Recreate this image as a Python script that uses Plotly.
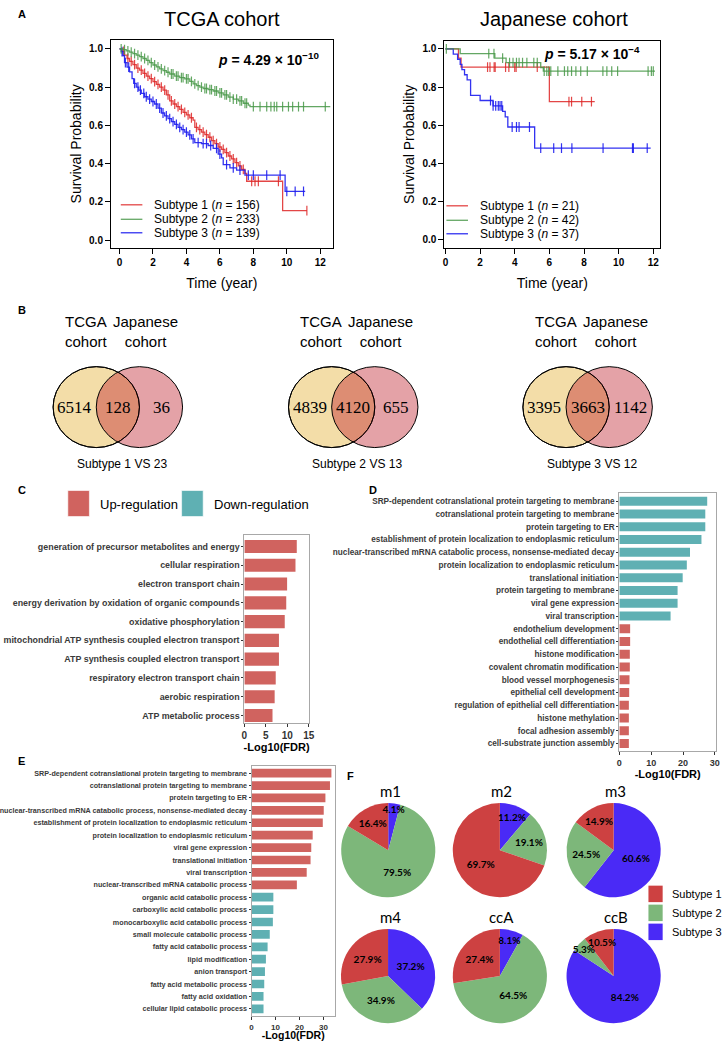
import plotly.graph_objects as go

W, H = 728, 1041
def X(p): return p / W
def Y(p): return 1 - p / H
def DX(a, b): return [a / W, b / W]
def DY(a, b): return [1 - b / H, 1 - a / H]

SANS = "Liberation Sans"
SERIF = "Liberation Serif"
PIEF = "Lato"

# ---------------- Panel A data (Kaplan-Meier) ----------------
subtype_names = ["Subtype 1", "Subtype 2", "Subtype 3"]
tcga_n = [156, 233, 139]
jp_n = [21, 42, 37]

tcga_s1_time = [0.15, 0.3, 0.45, 0.6, 0.8, 1.0, 1.2, 1.4, 1.6, 1.8, 2.0, 2.2, 2.4, 2.6, 2.8, 3.0, 3.2, 3.4, 3.6,
                3.8, 4.0, 4.2, 4.4, 4.5, 4.7, 4.9, 5.1, 5.3, 5.5, 5.7, 5.9, 6.1, 6.3, 6.5, 6.7, 6.9, 7.1, 7.3,
                7.5, 7.6, 9.75]
tcga_s1_surv = [0.987, 0.968, 0.950, 0.935, 0.918, 0.900, 0.889, 0.872, 0.858, 0.845, 0.829, 0.815, 0.800,
                0.785, 0.760, 0.728, 0.712, 0.698, 0.684, 0.668, 0.655, 0.640, 0.628, 0.590, 0.578, 0.565,
                0.552, 0.538, 0.520, 0.505, 0.487, 0.475, 0.458, 0.440, 0.425, 0.405, 0.388, 0.370, 0.349,
                0.308, 0.154]
tcga_s1_end = 11.2
tcga_s1_cens = [0.25, 0.5, 0.7, 0.9, 1.1, 1.3, 1.5, 1.7, 1.9, 2.1, 2.3, 2.5, 2.7, 2.9, 3.1, 3.3, 3.5, 3.7, 3.9,
                4.1, 4.3, 4.6, 4.8, 5.0, 5.2, 5.4, 5.6, 5.8, 6.0, 6.2, 6.4, 6.6, 6.8, 7.0, 7.2, 7.4, 7.9, 8.1,
                8.3, 9.5, 11.2]

tcga_s2_time = [0.2, 0.4, 0.6, 0.8, 1.0, 1.2, 1.4, 1.6, 1.8, 2.0, 2.2, 2.4, 2.6, 2.8, 3.0, 3.3, 3.6, 3.9, 4.2,
                4.4, 4.6, 4.8, 5.0, 5.3, 5.6, 5.9, 6.2, 6.5, 6.8, 7.1, 7.4, 7.7, 7.8]
tcga_s2_surv = [0.996, 0.990, 0.983, 0.975, 0.968, 0.960, 0.950, 0.940, 0.928, 0.916, 0.906, 0.896, 0.887,
                0.878, 0.869, 0.858, 0.850, 0.843, 0.830, 0.817, 0.808, 0.800, 0.793, 0.787, 0.780, 0.770,
                0.760, 0.748, 0.738, 0.728, 0.716, 0.706, 0.698]
tcga_s2_end = 12.6
tcga_s2_cens = [0.1, 0.3, 0.5, 0.7, 0.9, 1.1, 1.3, 1.5, 1.7, 1.9, 2.1, 2.3, 2.5, 2.7, 2.9, 3.1, 3.2, 3.4, 3.5,
                3.7, 3.8, 4.0, 4.1, 4.3, 4.5, 4.7, 4.9, 5.1, 5.2, 5.4, 5.5, 5.7, 5.8, 6.0, 6.1, 6.3, 6.4, 6.6,
                6.8, 7.0, 7.2, 7.3, 7.5, 7.6, 8.0, 8.4, 8.8, 9.05, 9.25, 9.4, 9.75, 10.1, 10.35, 10.7, 11.0,
                12.3]

tcga_s3_time = [0.1, 0.2, 0.3, 0.45, 0.6, 0.75, 0.85, 1.0, 1.15, 1.3, 1.5, 1.7, 1.9, 2.1, 2.3, 2.5, 2.7, 2.9,
                3.1, 3.3, 3.5, 3.7, 3.9, 4.1, 4.3, 4.5, 4.9, 5.3, 5.6, 5.9, 6.1, 6.2, 6.6, 7.0, 7.5, 9.9]
tcga_s3_surv = [0.986, 0.965, 0.928, 0.905, 0.880, 0.845, 0.820, 0.800, 0.785, 0.768, 0.750, 0.738, 0.725,
                0.712, 0.690, 0.665, 0.650, 0.635, 0.620, 0.605, 0.590, 0.578, 0.565, 0.550, 0.530, 0.510,
                0.505, 0.495, 0.480, 0.450, 0.430, 0.395, 0.378, 0.366, 0.340, 0.255]
tcga_s3_end = 11.1
tcga_s3_cens = [0.15, 0.35, 0.55, 0.9, 1.1, 1.25, 1.45, 1.6, 1.8, 2.0, 2.2, 2.4, 2.6, 2.8, 3.0, 3.2, 3.4, 3.6,
                3.8, 4.0, 4.2, 4.4, 4.7, 5.0, 5.2, 5.45, 5.8, 6.0, 6.4, 6.8, 7.2, 7.7, 8.0, 8.8, 9.6, 10.0,
                10.5, 11.0]

jp_s1_time = [0.75, 0.9, 6.0]
jp_s1_surv = [0.952, 0.905, 0.724]
jp_s1_end = 8.62
jp_s1_cens = [2.43, 2.57, 2.81, 2.87, 3.47, 3.66, 4.0, 4.08, 5.3, 7.13, 7.28, 7.87, 8.43]

jp_s2_time = [0.85, 2.85, 3.5, 5.5, 5.65]
jp_s2_surv = [0.976, 0.952, 0.928, 0.903, 0.884]
jp_s2_end = 12.1
jp_s2_cens = [0.05, 2.5, 2.8, 3.3, 3.7, 3.9, 4.1, 4.25, 4.45, 4.7, 5.1, 5.3, 5.7, 5.85, 5.96, 6.08, 6.49, 6.87,
              7.06, 7.28, 7.53, 7.81, 8.19, 9.09, 9.32, 9.6, 9.94, 11.7, 11.89, 12.0]

jp_s3_time = [0.45, 0.7, 0.85, 0.95, 1.1, 1.25, 1.45, 2.0, 2.75, 3.3, 3.45, 3.6, 5.15]
jp_s3_surv = [0.973, 0.946, 0.919, 0.892, 0.865, 0.838, 0.757, 0.730, 0.702, 0.673, 0.644, 0.591, 0.480]
jp_s3_end = 11.85
jp_s3_cens = [2.6, 2.75, 2.9, 3.05, 3.15, 3.25, 3.85, 4.1, 4.25, 4.85, 5.5, 6.25, 6.7, 7.3, 9.1, 10.8,
              10.85, 11.65]

tcga_p = "4.29 × 10<sup>−10</sup>"
jp_p = "5.17 × 10<sup>−4</sup>"

# ---------------- Panel B data (Venn) ----------------
venn_titles = ["Subtype 1 VS 23", "Subtype 2 VS 13", "Subtype 3 VS 12"]
venn_tcga_only = [6514, 4839, 3395]
venn_both = [128, 4120, 3663]
venn_jp_only = [36, 655, 1142]
venn_set_labels = ["TCGA<br>cohort", "Japanese<br>cohort"]

# ---------------- Panel C/D/E data (GO bars) ----------------
reg_labels = ["Up-regulation", "Down-regulation"]

c_terms = ["generation of precursor metabolites and energy", "cellular respiration", "electron transport chain",
           "energy derivation by oxidation of organic compounds", "oxidative phosphorylation",
           "mitochondrial ATP synthesis coupled electron transport", "ATP synthesis coupled electron transport",
           "respiratory electron transport chain", "aerobic respiration", "ATP metabolic process"]
c_vals = [12.2, 11.9, 9.95, 9.75, 9.4, 8.05, 8.05, 7.3, 7.05, 6.55]
c_dir = ["up"] * 10

d_terms = ["SRP-dependent cotranslational protein targeting to membrane",
           "cotranslational protein targeting to membrane", "protein targeting to ER",
           "establishment of protein localization to endoplasmic reticulum",
           "nuclear-transcribed mRNA catabolic process, nonsense-mediated decay",
           "protein localization to endoplasmic reticulum", "translational initiation",
           "protein targeting to membrane", "viral gene expression", "viral transcription",
           "endothelium development", "endothelial cell differentiation", "histone modification",
           "covalent chromatin modification", "blood vessel morphogenesis", "epithelial cell development",
           "regulation of epithelial cell differentiation", "histone methylation", "focal adhesion assembly",
           "cell-substrate junction assembly"]
d_vals = [27.6, 27.0, 27.0, 25.8, 22.2, 21.2, 19.9, 18.3, 18.3, 16.1,
          3.4, 3.4, 3.3, 3.3, 3.2, 3.1, 3.0, 3.0, 3.0, 3.0]
d_dir = ["down"] * 10 + ["up"] * 10

e_terms = ["SRP-dependent cotranslational protein targeting to membrane",
           "cotranslational protein targeting to membrane", "protein targeting to ER",
           "nuclear-transcribed mRNA catabolic process, nonsense-mediated decay",
           "establishment of protein localization to endoplasmic reticulum",
           "protein localization to endoplasmic reticulum", "viral gene expression", "translational initiation",
           "viral transcription", "nuclear-transcribed mRNA catabolic process", "organic acid catabolic process",
           "carboxylic acid catabolic process", "monocarboxylic acid catabolic process",
           "small molecule catabolic process", "fatty acid catabolic process", "lipid modification",
           "anion transport", "fatty acid metabolic process", "fatty acid oxidation",
           "cellular lipid catabolic process"]
e_vals = [33.3, 32.7, 30.8, 30.1, 29.7, 25.5, 24.9, 24.6, 23.0, 18.9,
          9.1, 9.1, 8.9, 7.6, 6.7, 6.0, 5.6, 5.3, 5.0, 5.0]
e_dir = ["up"] * 10 + ["down"] * 10

# ---------------- Panel F data (pies) ----------------
pie_names = ["m1", "m2", "m3", "m4", "ccA", "ccB"]
pie_s1 = [16.4, 69.7, 14.9, 27.9, 27.4, 10.5]
pie_s2 = [79.5, 19.1, 24.5, 34.9, 64.5, 5.3]
pie_s3 = [4.1, 11.2, 60.6, 37.2, 8.1, 84.2]

# ---------------- styles ----------------
KM_COL = ["rgba(222,38,38,0.85)", "rgba(72,152,72,0.85)", "rgba(28,28,238,0.9)"]
UP_COL = "#D0635F"
DOWN_COL = "#5FB0B3"
PIE_COL = ["#CD4141", "#7DB77A", "#4A2AF6"]
VENN_Y = "#F3DDA8"
VENN_P = "rgba(188,23,35,0.4)"

fig = go.Figure()


def surv_at(t, times, surv):
    s = 1.0
    for ti, si in zip(times, surv):
        if ti <= t:
            s = si
        else:
            break
    return s


def km(times, surv, end, cens, color, xa, ya):
    xs = [0.0] + times + [end]
    ys = [1.0] + surv + [surv[-1]]
    fig.add_trace(go.Scatter(x=xs, y=ys, mode="lines", line=dict(shape="hv", color=color, width=1.3),
                             xaxis=xa, yaxis=ya, showlegend=False, hoverinfo="skip"))
    fig.add_trace(go.Scatter(x=cens, y=[surv_at(c, times, surv) for c in cens], mode="markers",
                             marker=dict(symbol="line-ns-open", size=7, color=color,
                                         line=dict(color=color, width=1.2)),
                             xaxis=xa, yaxis=ya, showlegend=False, hoverinfo="skip"))


km(tcga_s1_time, tcga_s1_surv, tcga_s1_end, tcga_s1_cens, KM_COL[0], "x", "y")
km(tcga_s3_time, tcga_s3_surv, tcga_s3_end, tcga_s3_cens, KM_COL[2], "x", "y")
km(tcga_s2_time, tcga_s2_surv, tcga_s2_end, tcga_s2_cens, KM_COL[1], "x", "y")
km(jp_s1_time, jp_s1_surv, jp_s1_end, jp_s1_cens, KM_COL[0], "x2", "y2")
km(jp_s3_time, jp_s3_surv, jp_s3_end, jp_s3_cens, KM_COL[2], "x2", "y2")
km(jp_s2_time, jp_s2_surv, jp_s2_end, jp_s2_cens, KM_COL[1], "x2", "y2")


def bars(terms, vals, dirs, xa, ya):
    fig.add_trace(go.Bar(y=terms, x=vals, orientation="h", width=0.7,
                         marker=dict(color=[UP_COL if d == "up" else DOWN_COL for d in dirs],
                                     line=dict(width=0)),
                         xaxis=xa, yaxis=ya, showlegend=False, hoverinfo="skip"))


bars(c_terms, c_vals, c_dir, "x3", "y3")
bars(d_terms, d_vals, d_dir, "x4", "y4")
bars(e_terms, e_vals, e_dir, "x5", "y5")

# pies: drawn clockwise from 12 o'clock as Subtype 3, Subtype 2, Subtype 1.
# A second, transparent pie on top carries the percentage labels so no slice hides them.
pie_centers = [(387.7, 851), (501.5, 851), (617.5, 851), (387.5, 977), (501.5, 977), (617.5, 977)]
R = 48
for layer in ("fill", "text"):
    for i, name in enumerate(pie_names):
        cx, cy = pie_centers[i]
        common = dict(labels=subtype_names[::-1], values=[pie_s3[i], pie_s2[i], pie_s1[i]], sort=False,
                      direction="clockwise", rotation=0,
                      domain=dict(x=DX(cx - R, cx + R), y=DY(cy - R, cy + R)),
                      showlegend=False, hoverinfo="skip")
        if layer == "fill":
            fig.add_trace(go.Pie(**common, marker=dict(colors=PIE_COL[::-1], line=dict(width=0)),
                                 textinfo="none"))
        else:
            fig.add_trace(go.Pie(**common, marker=dict(colors=["rgba(0,0,0,0)"] * 3, line=dict(width=0)),
                                 texttemplate="%{value:.1f}%", textposition="inside",
                                 insidetextorientation="horizontal",
                                 textfont=dict(family=PIEF, size=10, color="black", weight="bold")))

ann = []
shapes = []


def txt(x, y, s, size, xanchor="center", bold=False, family=SANS, color="black", yanchor="middle"):
    ann.append(dict(x=X(x), y=Y(y), xref="paper", yref="paper", text=s, showarrow=False,
                    xanchor=xanchor, yanchor=yanchor,
                    font=dict(family=family, size=size, color=color, weight="bold" if bold else "normal")))


# panel letters
for L, (x, y) in zip("ABCDEF", [(8, 14), (8, 310), (8, 490), (366, 490), (8, 762), (344, 777)]):
    txt(x, y, L, 11, xanchor="left", bold=True)

# KM titles / p-values / legends
txt(218, 19, "TCGA cohort", 20)
txt(557, 19, "Japanese cohort", 20)
txt(266, 59, "<i>p</i> = " + tcga_p, 14, bold=True)
txt(595, 53, "<i>p</i> = " + jp_p, 14, bold=True)

for k in range(3):
    yk = [205, 219.5, 233][k]
    shapes.append(dict(type="line", xref="paper", yref="paper", x0=X(115), x1=X(137), y0=Y(yk), y1=Y(yk),
                       line=dict(color=KM_COL[k], width=1.3)))
    txt(147, yk, f"{subtype_names[k]} (<i>n</i> = {tcga_n[k]})", 12, xanchor="left")
    shapes.append(dict(type="line", xref="paper", yref="paper", x0=X(447), x1=X(469), y0=Y(yk + 1),
                       y1=Y(yk + 1), line=dict(color=KM_COL[k], width=1.3)))
    txt(479, yk + 1, f"{subtype_names[k]} (<i>n</i> = {jp_n[k]})", 12, xanchor="left")

# Venn diagrams
venn_cx = [112, 352, 591]
VCY, RX, RY, SEP = 407.5, 44, 40.5, 22
for i, cx in enumerate(venn_cx):
    lx, rx_ = cx - SEP, cx + SEP
    shapes.append(dict(type="circle", xref="paper", yref="paper", x0=X(lx - RX), x1=X(lx + RX),
                       y0=Y(VCY + RY), y1=Y(VCY - RY), fillcolor=VENN_Y, line=dict(color="black", width=1)))
    shapes.append(dict(type="circle", xref="paper", yref="paper", x0=X(rx_ - RX), x1=X(rx_ + RX),
                       y0=Y(VCY + RY), y1=Y(VCY - RY), fillcolor=VENN_P, line=dict(color="black", width=1)))
    shapes.append(dict(type="circle", xref="paper", yref="paper", x0=X(lx - RX), x1=X(lx + RX),
                       y0=Y(VCY + RY), y1=Y(VCY - RY), line=dict(color="black", width=1)))
    txt(cx - 44, VCY, str(venn_tcga_only[i]), 17, family=SERIF)
    txt(cx, VCY, str(venn_both[i]), 17, family=SERIF)
    txt(cx + 44, VCY, str(venn_jp_only[i]), 17, family=SERIF)
    txt(cx - 32, 332, venn_set_labels[0], 15)
    txt(cx + 28, 332, venn_set_labels[1], 15)
    txt(cx + 4, 464, venn_titles[i], 12)

# Panel C legend
for (x0, col, lab) in [(61, UP_COL, reg_labels[0]), (177, DOWN_COL, reg_labels[1])]:
    shapes.append(dict(type="rect", xref="paper", yref="paper", x0=X(x0), x1=X(x0 + 22), y0=Y(517), y1=Y(491),
                       fillcolor=col, line=dict(color="rgba(255,255,255,0.6)", width=1)))
    txt(x0 + 31, 505, lab, 13, xanchor="left")

# pie titles and legend
for i, name in enumerate(pie_names):
    cx, cy = pie_centers[i]
    txt(cx + 2, cy - 59, name, 15, family=PIEF)
for k in range(3):
    y0 = [886.5, 905.5, 924.5][k]
    shapes.append(dict(type="rect", xref="paper", yref="paper", x0=X(653), x1=X(667.5), y0=Y(y0 + 16.5),
                       y1=Y(y0), fillcolor=PIE_COL[k], line=dict(width=0)))
    txt(675, y0 + 8.5, subtype_names[k], 11, xanchor="left")

# axes
km_ax = dict(showgrid=False, zeroline=False, showline=True, mirror=True, linecolor="black", linewidth=1,
             ticks="outside", ticklen=5, tickwidth=1, tickcolor="black",
             tickfont=dict(family=SANS, size=10, weight="bold", color="black"))
bar_x = dict(showgrid=False, zeroline=False, showline=True, mirror=True, linecolor="#A8A8A8", linewidth=1,
             ticks="outside", ticklen=3, tickcolor="#333333",
             tickfont=dict(family=SANS, size=10, weight="bold", color="#333333"))
bar_y = dict(showgrid=False, zeroline=False, showline=True, mirror=True, linecolor="#A8A8A8", linewidth=1,
             ticks="outside", ticklen=2, tickcolor="#333333", type="category", categoryorder="array")

fig.update_layout(
    width=W, height=H, margin=dict(l=0, r=0, t=0, b=0), paper_bgcolor="white", plot_bgcolor="white",
    font=dict(family=SANS, color="black"), showlegend=False,
    xaxis=dict(km_ax, domain=DX(105, 331), range=[-0.51, 12.74], anchor="y", tickvals=list(range(0, 13, 2)),
               title=dict(text="Time (year)", font=dict(size=14), standoff=11)),
    yaxis=dict(km_ax, domain=DY(40, 248), range=[-0.04, 1.047], anchor="x",
               tickvals=[0, 0.2, 0.4, 0.6, 0.8, 1.0], tickformat=".1f",
               title=dict(text="Survival Probability", font=dict(size=14), standoff=4)),
    xaxis2=dict(km_ax, domain=DX(445, 665), range=[-0.06, 12.4], anchor="y2", tickvals=list(range(0, 13, 2)),
                title=dict(text="Time (year)", font=dict(size=14), standoff=11)),
    yaxis2=dict(km_ax, domain=DY(41, 248), range=[-0.042, 1.042], anchor="x2",
                tickvals=[0, 0.2, 0.4, 0.6, 0.8, 1.0], tickformat=".1f",
                title=dict(text="Survival Probability", font=dict(size=14), standoff=4)),
    xaxis3=dict(bar_x, domain=DX(241, 306.7), range=[0, 15], anchor="y3", tickvals=[0, 5, 10, 15],
                title=dict(text="-Log10(FDR)", font=dict(size=11, weight="bold"), standoff=1)),
    yaxis3=dict(bar_y, domain=DY(535.7, 723.7), range=[9.4, -0.6], anchor="x3", categoryarray=c_terms,
                tickfont=dict(family=SANS, size=8.9, weight="bold", color="#3A3A3A")),
    xaxis4=dict(bar_x, domain=DX(623.3, 722), range=[0, 30.4], anchor="y4", tickvals=[0, 10, 20, 30],
                tickfont=dict(family=SANS, size=9, weight="bold", color="#333333"),
                title=dict(text="-Log10(FDR)", font=dict(size=11, weight="bold"), standoff=1)),
    yaxis4=dict(bar_y, domain=DY(493.3, 751.7), range=[19.58, -0.66], anchor="x4", categoryarray=d_terms,
                tickfont=dict(family=SANS, size=8.2, weight="bold", color="#3A3A3A")),
    xaxis5=dict(bar_x, domain=DX(248.3, 333.3), range=[0, 34.75], anchor="y5", tickvals=[0, 10, 20, 30],
                tickfont=dict(family=SANS, size=8, weight="bold", color="#333333"),
                title=dict(text="-Log10(FDR)", font=dict(size=10.5, weight="bold"), standoff=2)),
    yaxis5=dict(bar_y, domain=DY(766.7, 1017), range=[19.58, -0.58], anchor="x5", categoryarray=e_terms,
                tickfont=dict(family=SANS, size=7.2, weight="bold", color="#3A3A3A")),
    annotations=ann, shapes=shapes,
    uniformtext=dict(minsize=10, mode="show"),
)

fig.write_html("out.html", config={"displayModeBar": False},
               post_script="document.body.style.margin='0px';document.body.style.overflow='hidden';")
